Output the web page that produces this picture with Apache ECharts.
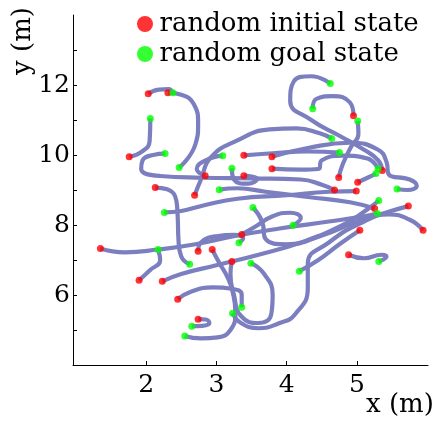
<!DOCTYPE html>
<html>
<head>
<meta charset="utf-8">
<script src="https://cdn.jsdelivr.net/npm/echarts@6/dist/echarts.min.js"></script>
<style>
  html, body { margin: 0; padding: 0; background: #fff; }
  #chart { width: 433px; height: 423px; }
</style>
</head>
<body>
<div id="chart"></div>
<script>
// start points (red), one per trajectory
const starts = [
  [2.03, 11.75], [2.31, 11.78], [1.76, 9.95], [4.68, 9.0], [2.84, 9.41],
  [3.39, 9.99], [3.79, 9.95], [3.39, 9.41], [2.69, 8.85], [3.79, 9.61],
  [4.95, 11.12], [4.74, 9.36], [5.01, 9.22], [4.99, 8.97], [5.36, 9.56],
  [5.25, 8.47], [5.73, 8.54], [5.04, 7.85], [5.94, 7.85], [4.88, 7.15],
  [3.36, 7.73], [2.94, 7.30], [2.74, 7.25], [3.22, 6.96], [1.35, 7.33],
  [1.90, 6.42], [2.23, 6.39], [2.45, 5.88], [2.74, 5.31], [2.13, 9.07]
];
// goal points (green)
const goals = [
  [2.38, 11.78], [2.47, 9.64], [2.06, 11.04], [2.27, 10.04], [3.09, 9.98],
  [4.75, 10.07], [5.57, 9.03], [3.22, 9.62], [4.64, 10.47], [5.30, 9.61],
  [4.37, 11.32], [5.01, 10.97], [5.27, 9.47], [2.26, 8.36], [4.62, 12.04],
  [3.04, 9.01], [3.52, 8.50], [4.18, 6.68], [3.23, 5.48], [5.31, 6.96],
  [4.09, 7.99], [2.55, 4.83], [3.32, 7.49], [3.49, 6.91], [5.29, 8.33],
  [2.17, 7.30], [5.31, 8.70], [3.36, 5.65], [2.65, 5.11], [2.62, 6.88]
];
// intermediate waypoints of each trajectory
const via = [
  [[2.18, 11.87], [2.32, 11.88]],
  [[2.5, 11.72], [2.68, 11.45], [2.74, 10.9], [2.7, 10.3]],
  [[1.93, 10.08], [2.05, 10.4]],
  [[4.5, 9.15], [4.2, 9.3], [3.5, 9.33], [2.8, 9.35], [2.2, 9.4], [1.93, 9.6], [1.95, 9.85], [2.1, 10.0]],
  [[2.72, 9.6], [2.85, 9.85]],
  [[3.8, 10.05], [4.3, 10.1]],
  [[4.3, 10.2], [4.9, 10.35], [5.3, 10.15], [5.42, 9.8], [5.45, 9.45], [5.75, 9.3], [5.85, 9.12], [5.72, 9.0]],
  [[3.58, 9.32], [3.45, 9.18], [3.25, 9.3]],
  [[2.78, 9.3], [2.92, 9.93], [3.29, 10.41], [3.76, 10.73], [4.14, 10.76], [4.47, 10.62]],
  [[4.2, 9.58], [4.45, 9.6], [4.5, 9.85], [4.8, 9.98], [5.15, 9.9]],
  [[4.9, 11.5], [4.65, 11.68], [4.42, 11.6]],
  [[4.8, 9.75], [4.92, 10.25], [5.02, 10.6]],
  [[5.15, 9.35]],
  [[4.6, 8.95], [4.0, 8.85], [3.3, 8.75], [2.8, 8.55], [2.5, 8.4]],
  [[5.3, 9.85], [5.1, 10.15], [4.75, 10.55], [4.35, 11.0], [4.05, 11.55], [4.1, 12.1], [4.35, 12.25]],
  [[4.9, 8.65], [4.3, 8.8], [3.7, 8.95], [3.3, 9.05]],
  [[5.45, 8.38], [5.0, 8.1], [4.5, 7.7], [4.0, 7.45], [3.7, 7.6], [3.65, 8.1]],
  [[4.75, 7.45], [4.45, 7.0]],
  [[5.75, 8.15], [5.45, 8.3], [5.1, 8.1], [4.6, 7.5], [4.3, 6.9], [4.3, 6.2], [4.12, 5.45], [3.9, 5.2], [3.6, 5.05], [3.35, 5.2]],
  [[5.1, 7.05], [5.35, 7.15], [5.42, 7.1]],
  [[3.55, 7.95], [3.8, 8.25], [4.05, 8.35], [4.2, 8.2]],
  [[3.04, 6.92], [3.16, 6.5], [3.23, 6.1], [3.27, 5.5], [3.2, 5.0], [3.02, 4.79], [2.78, 4.76]],
  [[2.78, 7.5], [3.0, 7.68], [3.25, 7.72], [3.38, 7.62]],
  [[3.2, 6.6], [3.25, 6.0], [3.35, 5.4], [3.6, 5.2], [3.78, 5.45], [3.8, 6.0], [3.68, 6.6]],
  [[1.7, 7.22], [2.17, 7.3], [2.7, 7.45], [3.3, 7.7], [3.9, 7.9], [4.6, 8.1], [5.1, 8.25]],
  [[2.05, 6.7], [2.2, 7.0]],
  [[2.5, 6.6], [3.0, 6.85], [3.6, 7.15], [4.2, 7.5], [4.8, 8.0], [5.15, 8.45]],
  [[2.62, 6.08], [2.95, 6.22], [3.22, 6.18], [3.36, 6.0]],
  [[2.85, 5.3], [2.9, 5.2], [2.8, 5.12]],
  [[2.3, 9.02], [2.43, 8.7], [2.45, 8.2], [2.46, 7.6], [2.5, 7.1]]
];
const xTicks = [2, 3, 4, 5];
const yTicks = [5, 6, 7, 8, 9, 10, 11, 12, 13];
const yLabels = [6, 8, 10, 12];

const serif = 'DejaVu Serif';
const pathColor = '#7b7fc0';

const chart = echarts.init(document.getElementById('chart'), null, { renderer: 'canvas' });

const pathSeries = starts.map((s, i) => ({
  type: 'line',
  data: [s].concat(via[i], [goals[i]]),
  smooth: 0.5,
  showSymbol: false,
  silent: true,
  lineStyle: { color: pathColor, width: 4.2 },
  z: 2
}));

chart.setOption({
  animation: false,
  grid: { left: 73, top: 15, right: 5, bottom: 58 },
  legend: {
    data: ['random initial state', 'random goal state'],
    orient: 'vertical',
    left: 132,
    top: 6,
    icon: 'circle',
    itemWidth: 17,
    itemHeight: 16,
    itemGap: 4,
    textStyle: { fontFamily: serif, fontSize: 26, color: '#000', padding: [0, 0, 0, 1] }
  },
  xAxis: {
    type: 'value',
    min: 0.96,
    max: 6.01,
    splitLine: { show: false },
    axisLine: { lineStyle: { color: '#000', width: 1 } },
    axisTick: { inside: true, length: 4, customValues: xTicks, lineStyle: { color: '#000' } },
    axisLabel: { customValues: xTicks, fontFamily: serif, fontSize: 25, color: '#000', margin: 8 }
  },
  yAxis: {
    type: 'value',
    min: 4,
    max: 14,
    splitLine: { show: false },
    axisLine: { lineStyle: { color: '#000', width: 1 } },
    axisTick: { inside: true, length: 4, customValues: yTicks, lineStyle: { color: '#000' } },
    axisLabel: { customValues: yLabels, fontFamily: serif, fontSize: 25, color: '#000', margin: 3 }
  },
  graphic: [
    {
      type: 'text', left: 10, top: 7, rotation: Math.PI / 2,
      style: { text: 'y (m)', font: '26px "DejaVu Serif"', fill: '#000' }
    },
    {
      type: 'text', left: 366, top: 392,
      style: { text: 'x (m)', font: '26px "DejaVu Serif"', fill: '#000' }
    }
  ],
  series: pathSeries.concat([
    {
      name: 'random initial state',
      type: 'scatter',
      data: starts,
      symbolSize: 7,
      itemStyle: { color: '#ff0000' },
      z: 5
    },
    {
      name: 'random goal state',
      type: 'scatter',
      data: goals,
      symbolSize: 7,
      itemStyle: { color: '#00ff00' },
      z: 5
    }
  ])
});
</script>
</body>
</html>
